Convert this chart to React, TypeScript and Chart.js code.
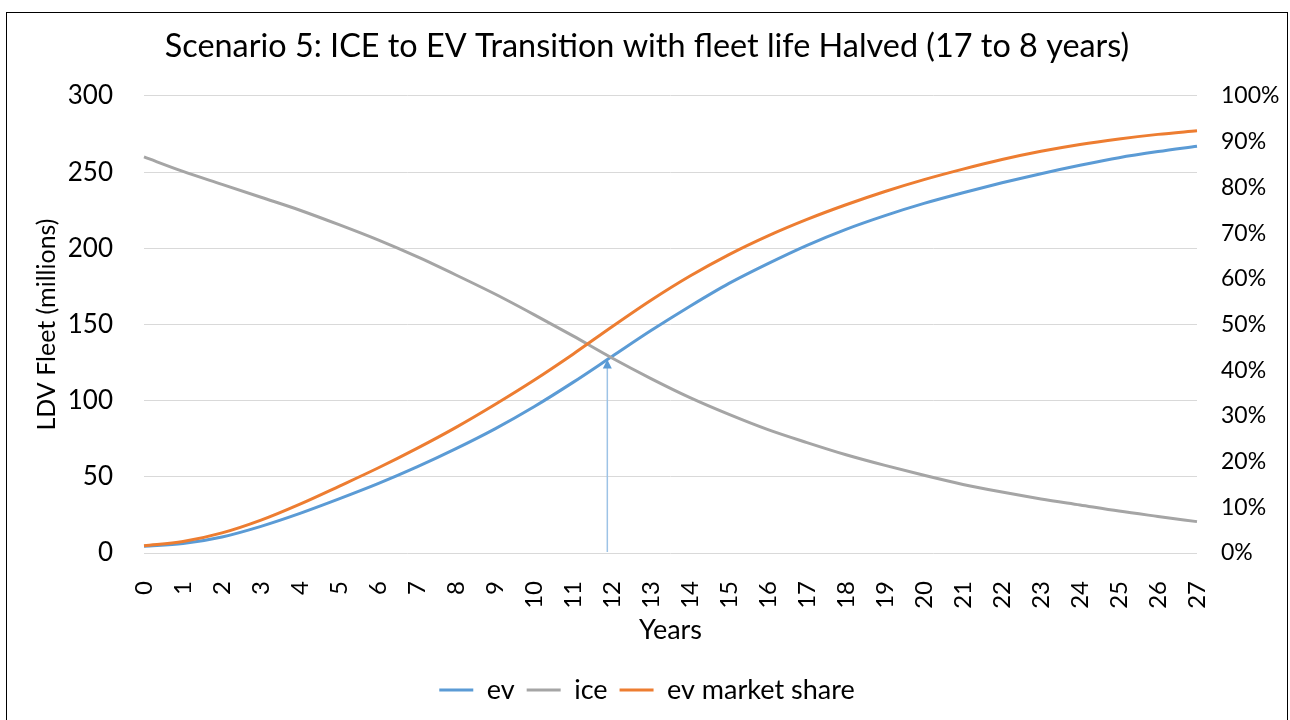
import React, { useEffect, useRef } from "react";
import { Chart, registerables } from "chart.js";

Chart.register(...registerables);

const YEARS = [
  "0", "1", "2", "3", "4", "5", "6", "7", "8", "9", "10", "11", "12", "13",
  "14", "15", "16", "17", "18", "19", "20", "21", "22", "23", "24", "25", "26", "27",
];

const EV = [
  4.4, 6.2, 10.5, 17.5, 26, 35.5, 45.5, 56.5, 68.5, 81.5, 96, 112, 129, 146,
  162, 177, 190, 202, 212.5, 221.5, 229.5, 236.5, 243, 249, 254.5, 259.5, 263.5, 267,
];

const ICE = [
  260, 250.5, 242, 233.5, 225, 215.5, 205.5, 194.5, 182.5, 170, 156.5, 142.5, 128, 114.5,
  102, 91, 81, 72.5, 64.5, 57.5, 51, 45, 40, 35.5, 31.5, 27.5, 24, 20.6,
];

const EV_SHARE = [
  1.6, 2.5, 4.4, 7.2, 10.7, 14.6, 18.6, 22.9, 27.5, 32.5, 37.8, 43.5, 49.5, 55.3,
  60.6, 65.3, 69.4, 73, 76.2, 79.1, 81.7, 84, 86.1, 87.9, 89.4, 90.6, 91.6, 92.4,
];

const ARROW_YEAR = 11.88;
const ARROW_TIP = 127;

const FONT = "Lato";

const arrowPlugin = {
  id: "arrowAnnotation",
  afterDatasetsDraw(chart: any) {
    const { ctx, scales } = chart;
    const x = scales.x;
    const y = scales.y;
    const px = x.getPixelForValue(ARROW_YEAR);
    const y0 = y.getPixelForValue(0);
    const yTip = y.getPixelForValue(ARROW_TIP);
    ctx.save();
    ctx.strokeStyle = "#9DC3E6";
    ctx.lineWidth = 1.5;
    ctx.beginPath();
    ctx.moveTo(px, y0 - 1);
    ctx.lineTo(px, yTip + 8);
    ctx.stroke();
    ctx.fillStyle = "#5B9BD5";
    ctx.beginPath();
    ctx.moveTo(px, yTip);
    ctx.lineTo(px - 4.5, yTip + 9);
    ctx.lineTo(px + 4.5, yTip + 9);
    ctx.closePath();
    ctx.fill();
    ctx.restore();
  },
};

export default function App() {
  const ref = useRef<HTMLCanvasElement | null>(null);

  useEffect(() => {
    if (!ref.current) return;
    const chart = new Chart(ref.current, {
      type: "line",
      data: {
        labels: YEARS,
        datasets: [
          {
            label: "ev",
            data: EV,
            yAxisID: "y",
            borderColor: "#5B9BD5",
            backgroundColor: "#5B9BD5",
            borderWidth: 3,
            pointRadius: 0,
            cubicInterpolationMode: "monotone",
            order: 3,
          },
          {
            label: "ice",
            data: ICE,
            yAxisID: "y",
            borderColor: "#A5A5A5",
            backgroundColor: "#A5A5A5",
            borderWidth: 3,
            pointRadius: 0,
            cubicInterpolationMode: "monotone",
            order: 2,
          },
          {
            label: "ev market share",
            data: EV_SHARE,
            yAxisID: "y1",
            borderColor: "#ED7D31",
            backgroundColor: "#ED7D31",
            borderWidth: 3,
            pointRadius: 0,
            cubicInterpolationMode: "monotone",
            order: 1,
          },
        ],
      },
      options: {
        animation: false,
        responsive: false,
        events: [],
        layout: { padding: { left: 0, right: 0, top: 0, bottom: 6.5 } },
        plugins: {
          title: {
            display: true,
            text: "Scenario 5: ICE to EV Transition with fleet life Halved (17 to 8 years)",
            color: "#000",
            font: { family: FONT, size: 32.4, weight: "normal" },
            padding: { top: 14.3, bottom: 29.8 },
          },
          legend: {
            display: true,
            position: "bottom",
            labels: {
              usePointStyle: true,
              pointStyle: "line",
              pointStyleWidth: 34,
              color: "#000",
              font: { family: FONT, size: 27 },
              padding: 12,
              sort: (a: any, b: any) => a.datasetIndex - b.datasetIndex,
            },
          },
          tooltip: { enabled: false },
        },
        scales: {
          x: {
            type: "category",
            offset: false,
            grid: { display: false },
            border: { display: false },
            ticks: {
              autoSkip: false,
              maxRotation: 90,
              minRotation: 90,
              padding: 20,
              color: "#000",
              font: { family: FONT, size: 24 },
            },
            title: {
              display: true,
              text: "Years",
              color: "#000",
              font: { family: FONT, size: 27 },
              padding: { top: 0, bottom: 18.3 },
            },
            afterFit: (scale: any) => {
              scale.height = 111.5;
            },
          },
          y: {
            position: "left",
            min: 0,
            max: 300,
            ticks: {
              stepSize: 50,
              padding: 31,
              color: "#000",
              font: { family: FONT, size: 26 },
            },
            grid: { color: "#D9D9D9", lineWidth: 1, drawTicks: false },
            border: { display: false },
            title: {
              display: true,
              text: "LDV Fleet (millions)",
              color: "#000",
              font: { family: FONT, size: 25 },
              padding: { top: 24.5, bottom: 0 },
            },
            afterFit: (scale: any) => {
              scale.width = 137;
            },
          },
          y1: {
            position: "right",
            min: 0,
            max: 100,
            ticks: {
              stepSize: 10,
              padding: 24,
              color: "#000",
              font: { family: FONT, size: 23 },
              callback: (v: any) => `${v}%`,
            },
            grid: { display: false, drawTicks: false },
            border: { display: false },
            afterFit: (scale: any) => {
              scale.width = 90;
            },
          },
        },
      },
      plugins: [arrowPlugin],
    } as any);
    return () => chart.destroy();
  }, []);

  return (
    <div
      style={{
        position: "fixed",
        left: 6,
        top: 12,
        width: 1282,
        height: 720,
        border: "1px solid #000",
        boxSizing: "border-box",
        background: "#fff",
      }}
    >
      <canvas
        ref={ref}
        width={1280}
        height={707}
        style={{ display: "block", width: 1280, height: 707 }}
      />
    </div>
  );
}
